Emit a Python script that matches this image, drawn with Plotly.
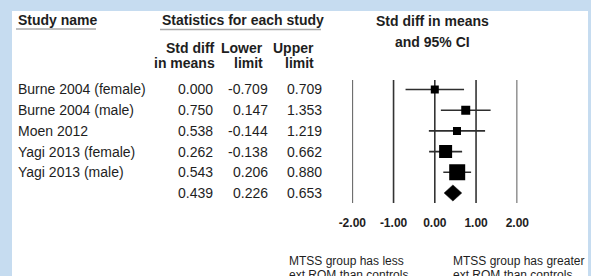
import plotly.graph_objects as go

# ---------------- data ----------------
studies = ["Burne 2004 (female)", "Burne 2004 (male)", "Moen 2012",
           "Yagi 2013 (female)", "Yagi 2013 (male)"]
std_diff = [0.000, 0.750, 0.538, 0.262, 0.543]
lower = [-0.709, 0.147, -0.144, -0.138, 0.206]
upper = [0.709, 1.353, 1.219, 0.662, 0.880]
summary_diff = 0.439
summary_lower = 0.226
summary_upper = 0.653
tick_vals = [-2, -1, 0, 1, 2]
tick_labels = ["-2.00", "-1.00", "0.00", "1.00", "2.00"]
col_headers = [("Std diff", "in means"), ("Lower", "limit"), ("Upper", "limit")]
left_note = ["MTSS group has less", "ext ROM than controls"]
right_note = ["MTSS group has greater", "ext ROM than controls"]

# ---------------- styling ----------------
W, H = 591, 276
FONT = "Liberation Sans, Arial, sans-serif"
TXT = "#1e1e1e"
marker_sizes = [8, 9, 8, 13, 16]


def X(px):
    return px / W


def Y(py):
    return 1 - py / H


fig = go.Figure()

rows = list(range(len(studies)))
summary_row = len(studies)

# CI lines + squares
fig.add_trace(go.Scatter(
    x=std_diff, y=rows, mode="markers",
    marker=dict(symbol="square", size=marker_sizes, color="#000000",
                opacity=1, line=dict(width=0)),
    error_x=dict(type="data", symmetric=False,
                 array=[u - m for u, m in zip(upper, std_diff)],
                 arrayminus=[m - l for m, l in zip(std_diff, lower)],
                 width=0, thickness=1.6, color="#2e2e2e"),
    hoverinfo="skip", showlegend=False))

# summary diamond
dh = 0.39
fig.add_trace(go.Scatter(
    x=[summary_lower, summary_diff, summary_upper, summary_diff, summary_lower],
    y=[summary_row, summary_row - dh, summary_row, summary_row + dh, summary_row],
    mode="lines", fill="toself", fillcolor="#000000",
    line=dict(color="#000000", width=0.5),
    hoverinfo="skip", showlegend=False))

top_px, bot_px = 80, 203

# white panel
shapes = [dict(type="rect", xref="paper", yref="paper",
               x0=X(12), x1=X(588), y0=Y(276), y1=Y(11),
               fillcolor="#ffffff", line=dict(width=0), layer="below")]
# vertical reference lines at ticks
for tv in tick_vals:
    shapes.append(dict(type="line", xref="x", yref="paper",
                       x0=tv, x1=tv, y0=Y(bot_px), y1=Y(top_px),
                       line=dict(color="#333333", width=1.6), layer="below"))
# header underlines
for x0, x1, yy in [(16, 96, 29), (160, 321, 29.5)]:
    shapes.append(dict(type="line", xref="paper", yref="paper",
                       x0=X(x0), x1=X(x1), y0=Y(yy), y1=Y(yy),
                       line=dict(color="#a8a8a8", width=1.6)))

ann = []


def add_text(text, x, y, anchor="left", size=14, bold=False, yref="paper"):
    ann.append(dict(text=f"<b>{text}</b>" if bold else text,
                    x=X(x), y=(Y(y) if yref == "paper" else y),
                    xref="paper", yref=yref, xanchor=anchor, yanchor="middle",
                    showarrow=False, font=dict(family=FONT, size=size, color=TXT)))


add_text("Study name", 16, 20, bold=True)
add_text("Statistics for each study", 160, 20, bold=True)
add_text("Std diff in means", 432, 21, anchor="center", bold=True)
add_text("and 95% CI", 432, 42, anchor="center", bold=True)

hdr_right = [217, 265, 316]
for (l1, l2), xr in zip(col_headers, hdr_right):
    add_text(l1, xr, 48, anchor="right", bold=True)
    add_text(l2, xr, 63, anchor="right", bold=True)

val_right = [215, 270, 324]
for i, name in enumerate(studies):
    add_text(name, 16, i, yref="y")
    for v, xr in zip([std_diff[i], lower[i], upper[i]], val_right):
        add_text(f"{v:.3f}", xr, i, anchor="right", yref="y")
for v, xr in zip([summary_diff, summary_lower, summary_upper], val_right):
    add_text(f"{v:.3f}", xr, summary_row, anchor="right", yref="y")

for k, line in enumerate(left_note):
    add_text(line, 287, 261 + 14 * k, size=12)
for k, line in enumerate(right_note):
    add_text(line, 451, 261 + 14 * k, size=12)

row_gap = (193 - 89.5) / 5
y_top = -(89.5 - top_px) / row_gap
y_bot = summary_row + (bot_px - 193) / row_gap

fig.update_layout(
    width=W, height=H, margin=dict(l=0, r=0, t=0, b=0, autoexpand=False),
    paper_bgcolor="#c6dcf0", plot_bgcolor="rgba(0,0,0,0)",
    shapes=shapes, annotations=ann,
    xaxis=dict(domain=[X(352.3), X(517.3)], range=[-2, 2],
               tickvals=tick_vals, ticktext=[f"<b>{t}</b>" for t in tick_labels],
               tickfont=dict(family=FONT, size=12, color=TXT),
               showgrid=False, zeroline=False, showline=False, ticks="",
               ticklabelstandoff=11, automargin=False, fixedrange=True),
    yaxis=dict(domain=[Y(bot_px), Y(top_px)], range=[y_bot, y_top],
               showgrid=False, zeroline=False, showticklabels=False,
               showline=False, automargin=False, fixedrange=True),
)

fig.write_html("out.html",
               config={"displayModeBar": False, "staticPlot": True},
               post_script="document.body.style.margin='0';"
                           "document.body.style.overflow='hidden';")
